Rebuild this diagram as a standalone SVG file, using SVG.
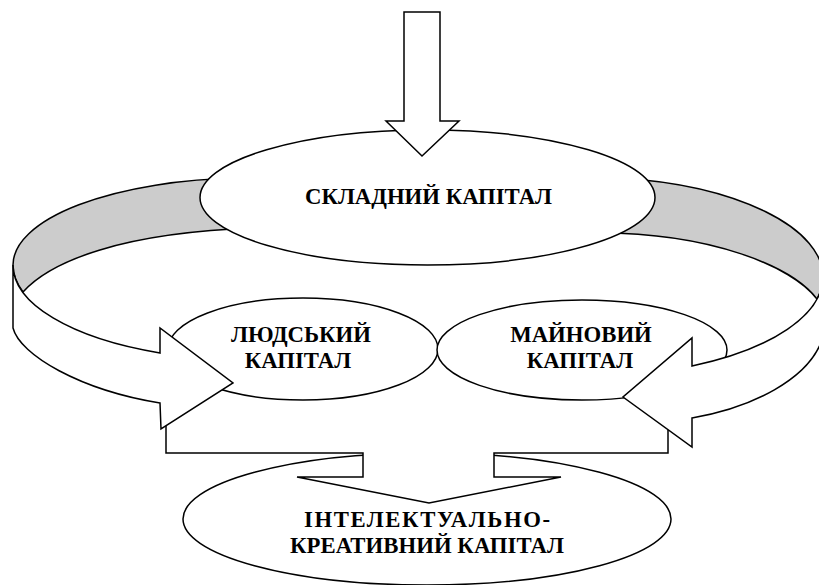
<svg xmlns="http://www.w3.org/2000/svg" width="819" height="585" viewBox="0 0 819 585">
<style>
.s{fill:#fff;stroke:#000;stroke-width:1.5;stroke-linejoin:miter}
.g{fill:#cccccc;stroke:#000;stroke-width:1.5}
.t{font-family:"Liberation Serif","Times New Roman",serif;font-weight:bold;font-size:22.75px;fill:#000;text-anchor:middle}
</style>
<rect width="819" height="585" fill="#fff"/>
<g id="node-intellectual">
<ellipse class="s" cx="427" cy="519" rx="244" ry="66"/>
<text class="t" x="427" y="527" textLength="246" lengthAdjust="spacing">ІНТЕЛЕКТУАЛЬНО-</text>
<text class="t" x="427" y="553" textLength="274" lengthAdjust="spacing">КРЕАТИВНИЙ КАПІТАЛ</text>
</g>
<g id="connectors">
<path d="M166,415 L668,415 L668,453 L494,453 L494,477 L561,477 L429,503 L297,477 L363,477 L363,453 L166,453 Z" fill="#fff" stroke="none"/>
<path d="M166,426 L166,453 L363,453 L363,477 L297,477 L429,503 L561,477 L494,477 L494,453 L668,453 L668,430" fill="none" stroke="#000" stroke-width="1.5"/>
</g>
<g id="node-human">
<ellipse class="s" cx="303" cy="349" rx="135" ry="51"/>
<text class="t" x="301" y="342">ЛЮДСЬКИЙ</text>
<text class="t" x="298" y="368">КАПІТАЛ</text>
</g>
<g id="node-property">
<ellipse class="s" cx="582" cy="350" rx="145" ry="50"/>
<text class="t" x="581" y="342">МАЙНОВИЙ</text>
<text class="t" x="580" y="368">КАПІТАЛ</text>
</g>
<g id="ribbons">
<path class="g" d="M240,178 A237,87 0 0 0 13,265 A237,95 0 0 0 23,292 C50,262 120,232 260,228 Z"/>
<path class="s" d="M13,265 A237,95 0 0 0 160,353 L160,328 L233,383 L161,429 L160,403 C80,390 20,355 13,328 Z"/>
<path class="g" d="M620,178 A237,100 0 0 1 823,277 A237,100 0 0 1 817,299 C792,266 710,233 600,233 Z"/>
<path class="s" d="M823,277 A237,100 0 0 1 692,366 L692,338 L623,397 L692,447 L692,418 C750,408 810,380 823,337 Z"/>
</g>
<g id="node-complex">
<ellipse class="s" cx="427.5" cy="197.5" rx="227.5" ry="67.5"/>
<text class="t" x="428.5" y="204">СКЛАДНИЙ КАПІТАЛ</text>
</g>
<g id="input-arrow">
<path class="s" d="M404,12 L440,12 L440,121 L459,121 L422,156 L386,121 L404,121 Z"/>
</g>
</svg>
